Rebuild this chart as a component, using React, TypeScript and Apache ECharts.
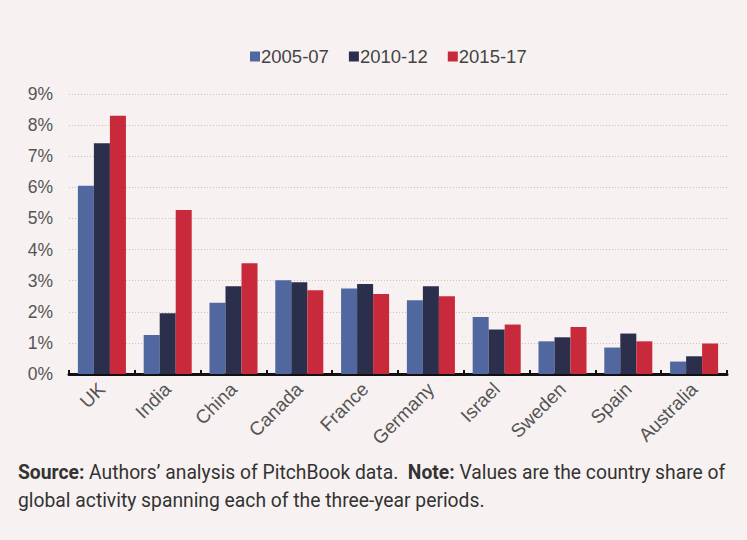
import React, { useEffect, useRef } from "react";
import * as echarts from "echarts";

const categories = ["UK", "India", "China", "Canada", "France", "Germany", "Israel", "Sweden", "Spain", "Australia"];
const seriesNames = ["2005-07", "2010-12", "2015-17"];
const s2005 = [6.05, 1.25, 2.29, 3.01, 2.75, 2.37, 1.83, 1.05, 0.85, 0.4];
const s2010 = [7.42, 1.95, 2.82, 2.95, 2.89, 2.82, 1.43, 1.18, 1.3, 0.57];
const s2015 = [8.3, 5.27, 3.56, 2.69, 2.57, 2.5, 1.59, 1.51, 1.05, 0.98];
const colors = ["#5167a0", "#2c2f4b", "#c8293b"];
const footLine1 = "{b|Source:} Authors’ analysis of PitchBook data.  {b|Note:} Values are the country share of";
const footLine2 = "global activity spanning each of the three-year periods.";

export default function App() {
  const ref = useRef<HTMLDivElement>(null);
  useEffect(() => {
    document.body.style.margin = "0";
    const chart = echarts.init(ref.current!, null, { renderer: "svg" });
    const data = [s2005, s2010, s2015];
    chart.setOption({
      animation: false,
      backgroundColor: "#f7f2f1",
      color: colors,
      legend: {
        top: 42,
        left: 245,
        itemWidth: 10,
        itemHeight: 10,
        itemGap: 20,
        icon: "rect",
        textStyle: { fontFamily: "Liberation Sans, Arial", fontSize: 18.5, color: "#444", padding: [0, 0, 0, -4] },
        data: seriesNames,
      },
      grid: { left: 69, right: 20, top: 94, bottom: 166 },
      xAxis: {
        type: "category",
        data: categories,
        axisLine: { lineStyle: { color: "#111", width: 3 } },
        axisTick: { show: true, inside: true, length: 4, lineStyle: { color: "#111", width: 2 } },
        axisLabel: {
          rotate: 45,
          interval: 0,
          margin: 12,
          fontFamily: "Liberation Sans, Arial",
          fontSize: 19,
          color: "#555",
        },
      },
      yAxis: {
        type: "value",
        min: 0,
        max: 9,
        interval: 1,
        axisLine: { show: false },
        axisTick: { show: false },
        axisLabel: {
          formatter: "{value}%",
          margin: 16,
          fontFamily: "Liberation Sans, Arial",
          fontSize: 17.5,
          color: "#555",
        },
        splitLine: { lineStyle: { color: "#c8c4c4", type: [1, 2], width: 1 } },
      },
      series: seriesNames.map((name, i) => ({
        name,
        type: "bar",
        data: data[i],
        barGap: "0%",
        barCategoryGap: "27%",
      })),
      graphic: [
        {
          type: "text",
          left: 18,
          top: 463,
          style: {
            text: footLine1,
            fontFamily: "Roboto, Liberation Sans",
            fontSize: 19.3,
            fill: "#333",
            rich: { b: { fontWeight: "bold", fontFamily: "Roboto, Liberation Sans", fontSize: 19.3, fill: "#333" } },
          },
        },
        {
          type: "text",
          left: 18,
          top: 491,
          style: { text: footLine2, fontFamily: "Roboto, Liberation Sans", fontSize: 19.3, fill: "#333" },
        },
      ],
    });
    return () => chart.dispose();
  }, []);
  return <div ref={ref} style={{ position: "absolute", left: 0, top: 0, width: 747, height: 540 }} />;
}
